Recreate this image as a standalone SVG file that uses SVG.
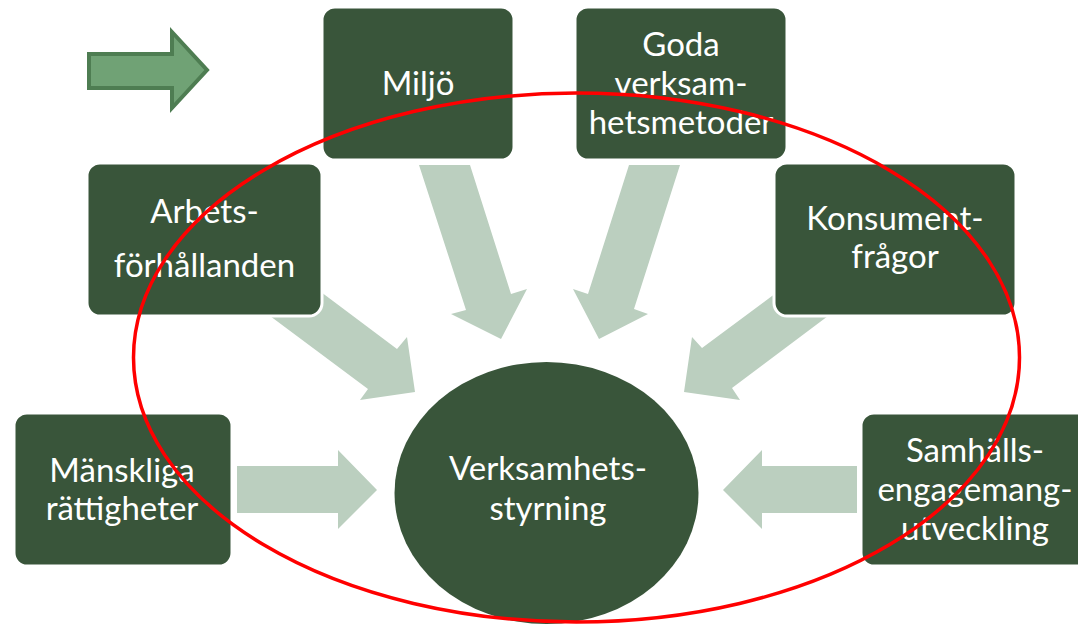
<svg xmlns="http://www.w3.org/2000/svg" width="1078" height="628" viewBox="0 0 1078 628">
  <style>
    .box { fill: #39553A; stroke: #FFFFFF; stroke-width: 3; }
    .flow { fill: #BBCFBF; }
    .lbl { font-family: Lato, "Open Sans", sans-serif; font-size: 33px; fill: #FFFFFF; text-anchor: middle; }
  </style>
  <rect width="1078" height="628" fill="#FFFFFF"/>

  <g id="connectors">
    <polygon class="flow" points="419,165 470,165 511,294 527,289 501,339 451,314 466,310"/>
    <polygon class="flow" points="629,165 680,165 634,309 648,314 599,339 573,289 588,294"/>
    <polygon class="flow" points="305,280 397,349 407,337 415,392 360,400 368,389 262,310"/>
    <polygon class="flow" points="780,290 702,348 692,337 684,392 740,400 732,388 840,307"/>
    <polygon class="flow" points="237,466 338,466 338,450 377,490 338,529 338,513 237,513"/>
    <polygon class="flow" points="857,466 762,466 762,450 723,490 762,529 762,513 857,513"/>
  </g>

  <g id="legend-arrow">
    <polygon points="89,54 172,54 172,32 207,70 172,108 172,88 89,88" fill="#70A275" stroke="#4E7D52" stroke-width="4" stroke-linejoin="miter"/>
  </g>

  <g id="node-miljo">
    <rect class="box" x="322" y="7" width="192" height="153" rx="13"/>
    <text class="lbl" x="418" y="95">Miljö</text>
  </g>
  <g id="node-goda">
    <rect class="box" x="575" y="7" width="212" height="153" rx="13"/>
    <text class="lbl" x="681" y="56">Goda</text>
    <text class="lbl" x="681" y="95">verksam-</text>
    <text class="lbl" x="681" y="134">hetsmetoder</text>
  </g>
  <g id="node-arbets">
    <rect class="box" x="87" y="163" width="235" height="153" rx="13"/>
    <text class="lbl" x="204.5" y="223">Arbets-</text>
    <text class="lbl" x="204.5" y="277">förhållanden</text>
  </g>
  <g id="node-konsument">
    <rect class="box" x="774" y="163" width="242" height="153" rx="13"/>
    <text class="lbl" x="895" y="230">Konsument-</text>
    <text class="lbl" x="895" y="268">frågor</text>
  </g>
  <g id="node-manskliga">
    <rect class="box" x="14" y="413" width="218" height="153" rx="13"/>
    <text class="lbl" x="122" y="482">Mänskliga</text>
    <text class="lbl" x="122" y="520">rättigheter</text>
  </g>
  <g id="node-samhalls">
    <rect class="box" x="861" y="413" width="240" height="153" rx="13"/>
    <text class="lbl" x="975" y="462">Samhälls-</text>
    <text class="lbl" x="975" y="501">engagemang-</text>
    <text class="lbl" x="975" y="540">utveckling</text>
  </g>
  <g id="node-center">
    <ellipse cx="546.5" cy="493" rx="152" ry="131" fill="#39553A"/>
    <text class="lbl" x="548" y="480">Verksamhets-</text>
    <text class="lbl" x="548" y="520">styrning</text>
  </g>

  <g id="highlight">
    <ellipse cx="576.5" cy="357.5" rx="443" ry="264.5" fill="none" stroke="#FF0000" stroke-width="3.5"/>
  </g>
</svg>
